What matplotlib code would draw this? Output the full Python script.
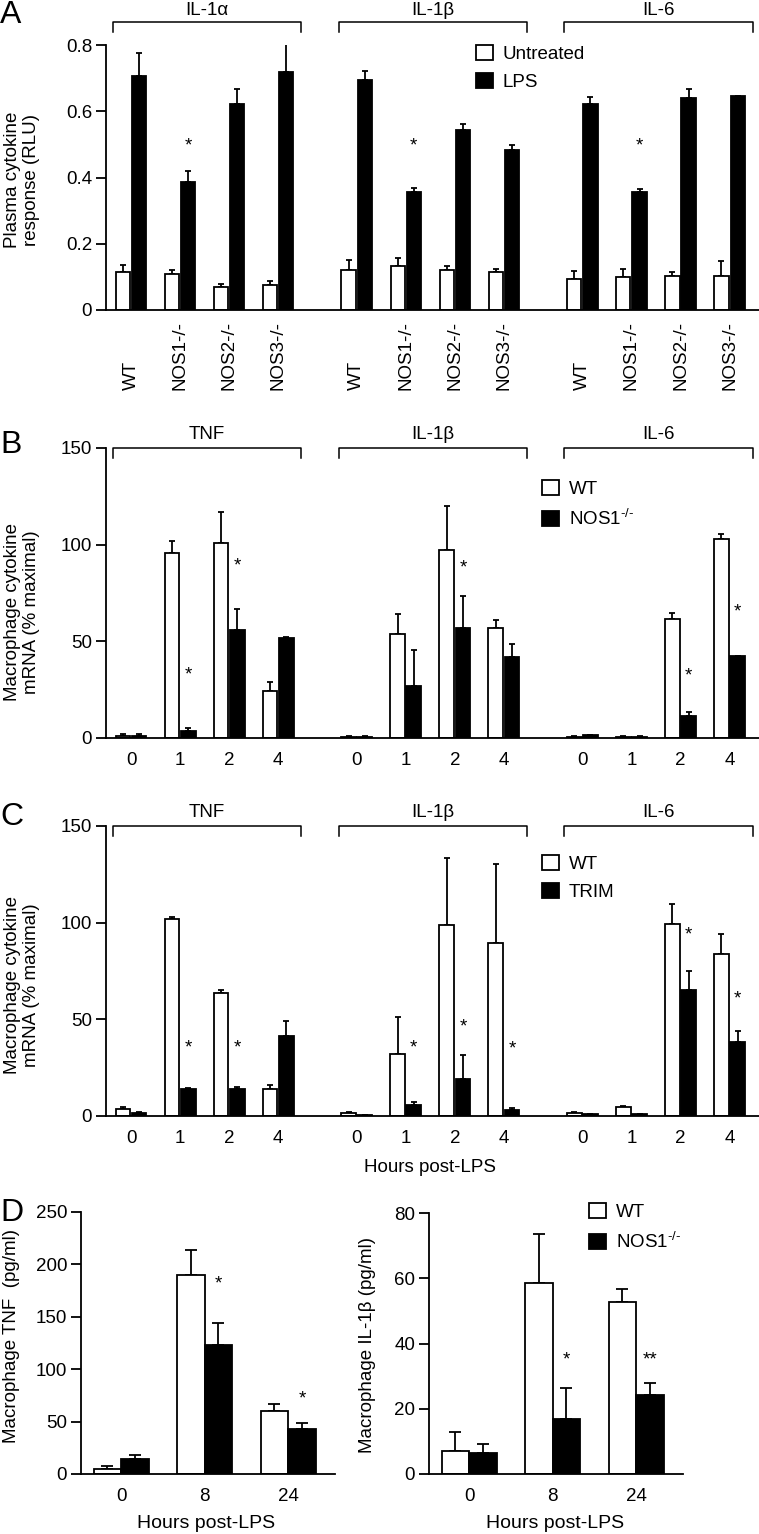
import numpy as np
import matplotlib
matplotlib.use("Agg")
import matplotlib.pyplot as plt
from matplotlib import transforms
from matplotlib.patches import Patch

plt.rcParams['font.family'] = ['Liberation Sans', 'DejaVu Sans']
plt.rcParams['mathtext.fontset'] = 'custom'
plt.rcParams['mathtext.rm'] = 'Liberation Sans'
plt.rcParams['font.size'] = 13.5
plt.rcParams['axes.linewidth'] = 1.3
FS = 13.5

# ---- data ----
# A: plasma cytokine response (RLU), groups WT, NOS1, NOS2, NOS3
a_cytokines = ["IL-1α", "IL-1β", "IL-6"]
a_genotypes = ["WT", "NOS1-/-", "NOS2-/-", "NOS3-/-"]
a_untr = [0.114, 0.108, 0.070, 0.075,
          0.121, 0.133, 0.121, 0.115,
          0.093, 0.100, 0.103, 0.103]
a_untr_err = [0.022, 0.013, 0.010, 0.013,
              0.030, 0.025, 0.012, 0.008,
              0.026, 0.023, 0.012, 0.046]
a_lps = [0.706, 0.386, 0.622, 0.720,
         0.694, 0.356, 0.543, 0.483,
         0.622, 0.356, 0.640, 0.646]
a_lps_err = [0.071, 0.033, 0.044, 0.090,
             0.029, 0.013, 0.020, 0.014,
             0.020, 0.010, 0.028, 0.001]
a_stars = {1: 0.494, 5: 0.494, 9: 0.494}

# B: macrophage mRNA, WT vs NOS1-/-
hours_bc = ["0", "1", "2", "4"]
bc_cytokines = ["TNF", "IL-1β", "IL-6"]
b_wt = [1.0, 95.7, 100.9, 24.5,
        0.5, 54.0, 97.4, 57.1,
        0.5, 0.5, 61.6, 103.1]
b_wt_err = [1.0, 6.2, 15.8, 4.3,
            0.3, 10.1, 22.8, 4.1,
            0.3, 0.3, 3.1, 2.2]
b_ko = [1.0, 3.8, 55.7, 51.7,
        0.5, 26.7, 57.1, 41.9,
        1.5, 0.5, 11.2, 42.4]
b_ko_err = [1.0, 1.4, 11.0, 0.4,
            0.3, 19.0, 16.5, 6.9,
            0.3, 0.3, 2.2, 0.2]
b_stars = {1: 32.8, 2: 88.8, 6: 88.0, 10: 32.0, 11: 65.3}

# C: macrophage mRNA, WT vs TRIM
c_wt = [3.4, 101.7, 63.8, 13.8,
        1.7, 32.1, 98.6, 89.7,
        1.5, 4.5, 99.3, 83.8]
c_wt_err = [1.1, 1.1, 1.5, 2.4,
            0.5, 19.3, 35.0, 40.5,
            0.8, 0.8, 10.2, 10.3]
c_trim = [1.7, 13.8, 13.8, 41.4,
          0.5, 5.7, 19.2, 2.9,
          0.8, 0.9, 65.1, 38.1]
c_trim_err = [0.4, 0.9, 1.4, 7.7,
              0.2, 1.5, 12.5, 1.0,
              0.2, 0.2, 10.1, 5.7]
c_stars = {1: 35.0, 2: 35.0, 5: 35.0, 6: 45.9, 7: 34.5, 10: 93.4, 11: 60.3}

# D: secreted protein, WT vs NOS1-/-
hours_d = ["0", "8", "24"]
d_tnf_wt = [4.5, 189.5, 60.5]
d_tnf_wt_err = [3.5, 24.0, 6.4]
d_tnf_ko = [14.0, 123.2, 43.0]
d_tnf_ko_err = [3.8, 21.0, 6.0]
d_tnf_stars = {1: ("*", 181.5), 2: ("*", 71.7)}
d_il1_wt = [7.2, 58.5, 52.6]
d_il1_wt_err = [5.8, 15.1, 4.2]
d_il1_ko = [6.5, 16.9, 24.2]
d_il1_ko_err = [2.7, 9.6, 3.8]
d_il1_stars = {1: ("*", 35.0), 2: ("**", 35.0)}

KO = "NOS1$^{\\text{-/-}}$"

W, H = 759, 1534
fig = plt.figure(figsize=(W / 100, H / 100), dpi=100)


def px_axes(l, t, r, b):
    return fig.add_axes([l / W, 1 - b / H, (r - l) / W, (b - t) / H])


def ftext(x, y, s, **kw):
    fig.text(x / W, 1 - y / H, s, **kw)


def style(ax):
    for s in ["top", "right"]:
        ax.spines[s].set_visible(False)
    ax.tick_params(axis="y", direction="out", length=7, width=1.3, labelsize=FS, pad=3)
    ax.tick_params(axis="x", length=0, labelsize=FS)


def bars(ax, x, v1, e1, v2, e2, width, off, cap):
    ax.bar(x - off, v1, width, color="white", edgecolor="black", linewidth=1.3, zorder=2)
    ax.bar(x + off, v2, width, color="black", edgecolor="black", linewidth=1.3, zorder=2)
    ax.errorbar(x - off, v1, yerr=[np.zeros(len(v1)), e1], fmt="none",
                ecolor="black", elinewidth=1.3, capsize=cap, capthick=1.3, zorder=1)
    ax.errorbar(x + off, v2, yerr=[np.zeros(len(v2)), e2], fmt="none",
                ecolor="black", elinewidth=1.3, capsize=cap, capthick=1.3, zorder=1)


def brackets(ax, centers, names, ytop, ytick, ylab):
    tr = transforms.blended_transform_factory(ax.transData, ax.transAxes)
    for i, name in enumerate(names):
        c = centers[i * 4:(i + 1) * 4]
        x0, x1 = c[0] - 0.37, c[-1] + 0.47
        ax.plot([x0, x0, x1, x1], [ytick, ytop, ytop, ytick], color="black",
                lw=1.1, transform=tr, clip_on=False)
        ax.text((x0 + x1) / 2, ylab, name, transform=tr, ha="center", va="center", fontsize=FS)


def legend(ax, labels, x, y):
    ax.legend(handles=[Patch(facecolor="white", edgecolor="black", lw=1.3, label=labels[0]),
                       Patch(facecolor="black", edgecolor="black", lw=1.3, label=labels[1])],
              loc="upper left", bbox_to_anchor=(x / W, 1 - y / H), bbox_transform=fig.transFigure,
              frameon=False, fontsize=FS, handlelength=0.92, handleheight=0.85,
              handletextpad=0.5, labelspacing=0.55, borderpad=0, borderaxespad=0)


# x positions for 3 clusters of 4 groups
xpos = np.concatenate([np.arange(4) + k * 4.6 for k in range(3)])

# ---- Panel A ----
axA = px_axes(106, 45, 759, 310)
bars(axA, xpos, a_untr, a_untr_err, a_lps, a_lps_err, 0.29, 0.165, 2.5)
axA.set_xlim(-0.51, 12.8)
axA.set_ylim(0, 0.8)
axA.set_yticks([0, 0.2, 0.4, 0.6, 0.8])
axA.set_yticklabels(["0", "0.2", "0.4", "0.6", "0.8"])
axA.set_xticks([])
style(axA)
trA = transforms.blended_transform_factory(axA.transData, axA.transAxes)
for i, x in enumerate(xpos):
    axA.text(x, -0.302, a_genotypes[i % 4], transform=trA, rotation=90,
             ha="center", va="bottom", fontsize=FS)
for i, y in a_stars.items():
    axA.text(xpos[i] + 0.165, y, "*", ha="center", va="center", fontsize=FS)
brackets(axA, xpos, a_cytokines, 1.087, 1.049, 1.132)
legend(axA, ["Untreated", "LPS"], 476, 45)
ftext(22, 180, "Plasma cytokine\nresponse (RLU)", rotation=90, ha="center", va="center",
      fontsize=FS, linespacing=1.15)
ftext(0, 0, "A", ha="left", va="top", fontsize=23)


# ---- Panels B and C ----
def mrna_panel(top, bottom, wt, wt_err, other, other_err, stars, other_label, legend_top):
    ax = px_axes(106, top, 759, bottom)
    bars(ax, xpos, wt, wt_err, other, other_err, 0.3, 0.165, 2.5)
    ax.set_xlim(-0.51, 12.8)
    ax.set_ylim(0, 150)
    ax.set_yticks([0, 50, 100, 150])
    ax.set_xticks(xpos)
    ax.set_xticklabels(hours_bc * 3)
    style(ax)
    ax.tick_params(axis="x", pad=10)
    for i, y in stars.items():
        ax.text(xpos[i] + 0.165, y, "*", ha="center", va="center", fontsize=FS)
    brackets(ax, xpos, bc_cytokines, 1.0, 0.966, 1.045)
    legend(ax, ["WT", other_label], 542, legend_top)
    return ax


axB = mrna_panel(448, 738, b_wt, b_wt_err, b_ko, b_ko_err, b_stars, KO, 480)
ftext(22, 612, "Macrophage cytokine\nmRNA (% maximal)", rotation=90, ha="center", va="center",
      fontsize=FS, linespacing=1.15)
ftext(0, 430, "B", ha="left", va="top", fontsize=23)

axC = mrna_panel(826, 1116, c_wt, c_wt_err, c_trim, c_trim_err, c_stars, "TRIM", 855)
ftext(22, 985, "Macrophage cytokine\nmRNA (% maximal)", rotation=90, ha="center", va="center",
      fontsize=FS, linespacing=1.15)
ftext(430, 1167, "Hours post-LPS", ha="center", va="center", fontsize=FS)
ftext(0, 802, "C", ha="left", va="top", fontsize=23)

# ---- Panel D ----
xd = np.arange(3)


def protein_panel(l, r, top, wt, wt_err, ko, ko_err, stars, ymax, step):
    ax = px_axes(l, top, r, 1474)
    bars(ax, xd, wt, wt_err, ko, ko_err, 0.33, 0.165, 4)
    ax.set_xlim(-0.48, 2.56)
    ax.set_ylim(0, ymax)
    ax.set_yticks(np.arange(0, ymax + 1, step))
    ax.set_xticks(xd)
    ax.set_xticklabels(hours_d)
    style(ax)
    ax.tick_params(axis="x", pad=10)
    for i, (s, y) in stars.items():
        ax.text(xd[i] + 0.165, y, s, ha="center", va="center", fontsize=FS)
    return ax


axD1 = protein_panel(81, 335, 1212, d_tnf_wt, d_tnf_wt_err, d_tnf_ko, d_tnf_ko_err,
                     d_tnf_stars, 250, 50)
axD2 = protein_panel(429, 683, 1213, d_il1_wt, d_il1_wt_err, d_il1_ko, d_il1_ko_err,
                     d_il1_stars, 80, 20)
legend(axD2, ["WT", KO], 589, 1203)
ftext(12, 1336, "Macrophage TNF  (pg/ml)", rotation=90, ha="center", va="center", fontsize=FS)
ftext(368, 1345, "Macrophage IL-1β (pg/ml)", rotation=90, ha="center", va="center", fontsize=FS)
ftext(206, 1523, "Hours post-LPS", ha="center", va="center", fontsize=14)
ftext(555, 1523, "Hours post-LPS", ha="center", va="center", fontsize=14)
ftext(0, 1198, "D", ha="left", va="top", fontsize=23)

fig.savefig("out.png", dpi=100)
